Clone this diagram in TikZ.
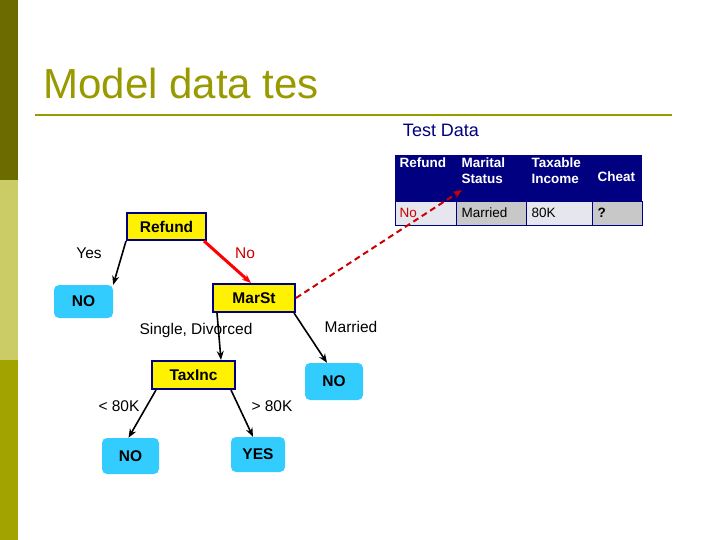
\documentclass[tikz,border=0pt]{standalone}
\usepackage{fontspec}
\setmainfont{Liberation Sans}
\usetikzlibrary{arrows.meta}
\definecolor{olive1}{HTML}{6B6B00}
\definecolor{olive2}{HTML}{CCCC66}
\definecolor{olive3}{HTML}{A3A300}
\definecolor{titlec}{HTML}{999900}
\definecolor{navy}{HTML}{000080}
\definecolor{nodeblue}{HTML}{33CCFF}
\definecolor{cellA}{HTML}{E6E6EE}
\definecolor{cellB}{HTML}{C8C8C8}
\begin{document}
\begin{tikzpicture}[x=1pt,y=-1pt,
 dec/.style={draw=navy,line width=2pt,fill=yellow,font=\bfseries\fontsize{15.5}{18}\selectfont,inner sep=0pt},
 leaf/.style={fill=nodeblue,rounded corners=5pt,font=\bfseries\fontsize{15.5}{18}\selectfont,inner sep=0pt},
 edge/.style={-{Stealth[length=9pt,width=7pt]},line width=1.6pt},
 lab/.style={font=\fontsize{15.5}{18}\selectfont},
 th/.style={font=\bfseries\fontsize{13.5}{16}\selectfont,text=white,align=left,anchor=west},
 td/.style={font=\fontsize{13.5}{16}\selectfont,anchor=west}]
\useasboundingbox (0,0) rectangle (720,540);
\fill[white] (0,0) rectangle (720,540);
\fill[olive1] (0,0) rectangle (18,180);
\fill[olive2] (0,180) rectangle (18,360);
\fill[olive3] (0,360) rectangle (18,540);
\node[anchor=west,text=titlec,font=\fontsize{42}{48}\selectfont] (title) at (40,83) {Model data tes};
\draw[titlec,line width=2.5pt] (35,115) -- (672,115);
\node[text=navy,font=\fontsize{18}{20}\selectfont] (td) at (441,130) {Test Data};
% table
\fill[navy] (395,155) rectangle (642,202);
\fill[cellA] (395,202) rectangle (456,226);
\fill[cellB] (456,202) rectangle (526,226);
\fill[cellA] (526,202) rectangle (592,226);
\fill[cellB] (592,202) rectangle (642,226);
\draw[navy,line width=1pt] (395,202) rectangle (642,226);
\foreach \x in {456,526,592} \draw[navy,line width=1pt] (\x,202) -- (\x,226);
\node[th] at (396,163) {Refund};
\node[th] at (458,171) {Marital\\Status};
\node[th] at (528,171) {Taxable\\Income};
\node[th] at (594,177) {Cheat};
\node[td,text=red!80!black] (tno) at (396,213) {No};
\node[td] at (458,213) {Married};
\node[td] at (528,213) {80K};
\node[td,font=\bfseries\fontsize{13.5}{16}\selectfont] at (594,213) {?};
\coordinate (ms) at (462,190);
% tree
\node[dec,minimum width=79pt,minimum height=27pt] (refund) at (166.5,226.5) {Refund};
\node[leaf,minimum width=59pt,minimum height=33pt] (no1) at (83.5,301.5) {NO};
\node[dec,minimum width=82pt,minimum height=28pt] (marst) at (254,298) {MarSt};
\node[dec,minimum width=83pt,minimum height=28pt] (taxinc) at (193.5,375) {TaxInc};
\node[leaf,minimum width=58pt,minimum height=37pt] (no2) at (334,381.5) {NO};
\node[leaf,minimum width=57pt,minimum height=36pt] (no3) at (130.5,456) {NO};
\node[leaf,minimum width=54pt,minimum height=35pt] (yes) at (258,454.5) {YES};
\draw[edge] (refund.south west) -- (no1.north east);
\draw[edge,red,line width=3pt] ([xshift=-3pt]refund.south east) -- ([xshift=-3pt]marst.north);
\draw[edge] ([xshift=5pt]marst.south west) -- ([xshift=-15pt]taxinc.north east);
\draw[edge] ([xshift=-2pt]marst.south east) -- ([xshift=-7pt]no2.north);
\draw[edge] ([xshift=5pt]taxinc.south west) -- ([xshift=-2pt]no3.north);
\draw[edge] ([xshift=-5pt]taxinc.south east) -- ([xshift=-5pt]yes.north);
\draw[red!80!black,line width=2pt,dash pattern=on 6pt off 4pt,-{Stealth[length=9pt,width=7pt]}] (marst.east) -- (ms);
\node[lab] at (89,253) {Yes};
\node[lab,text=red!80!black] at (245,253) {No};
\node[lab] at (196,330) {Single, Divorced};
\node[lab] at (351,327) {Married};
\node[lab] at (119,406) {< 80K};
\node[lab] at (272,406) {> 80K};
\end{tikzpicture}
\end{document}
